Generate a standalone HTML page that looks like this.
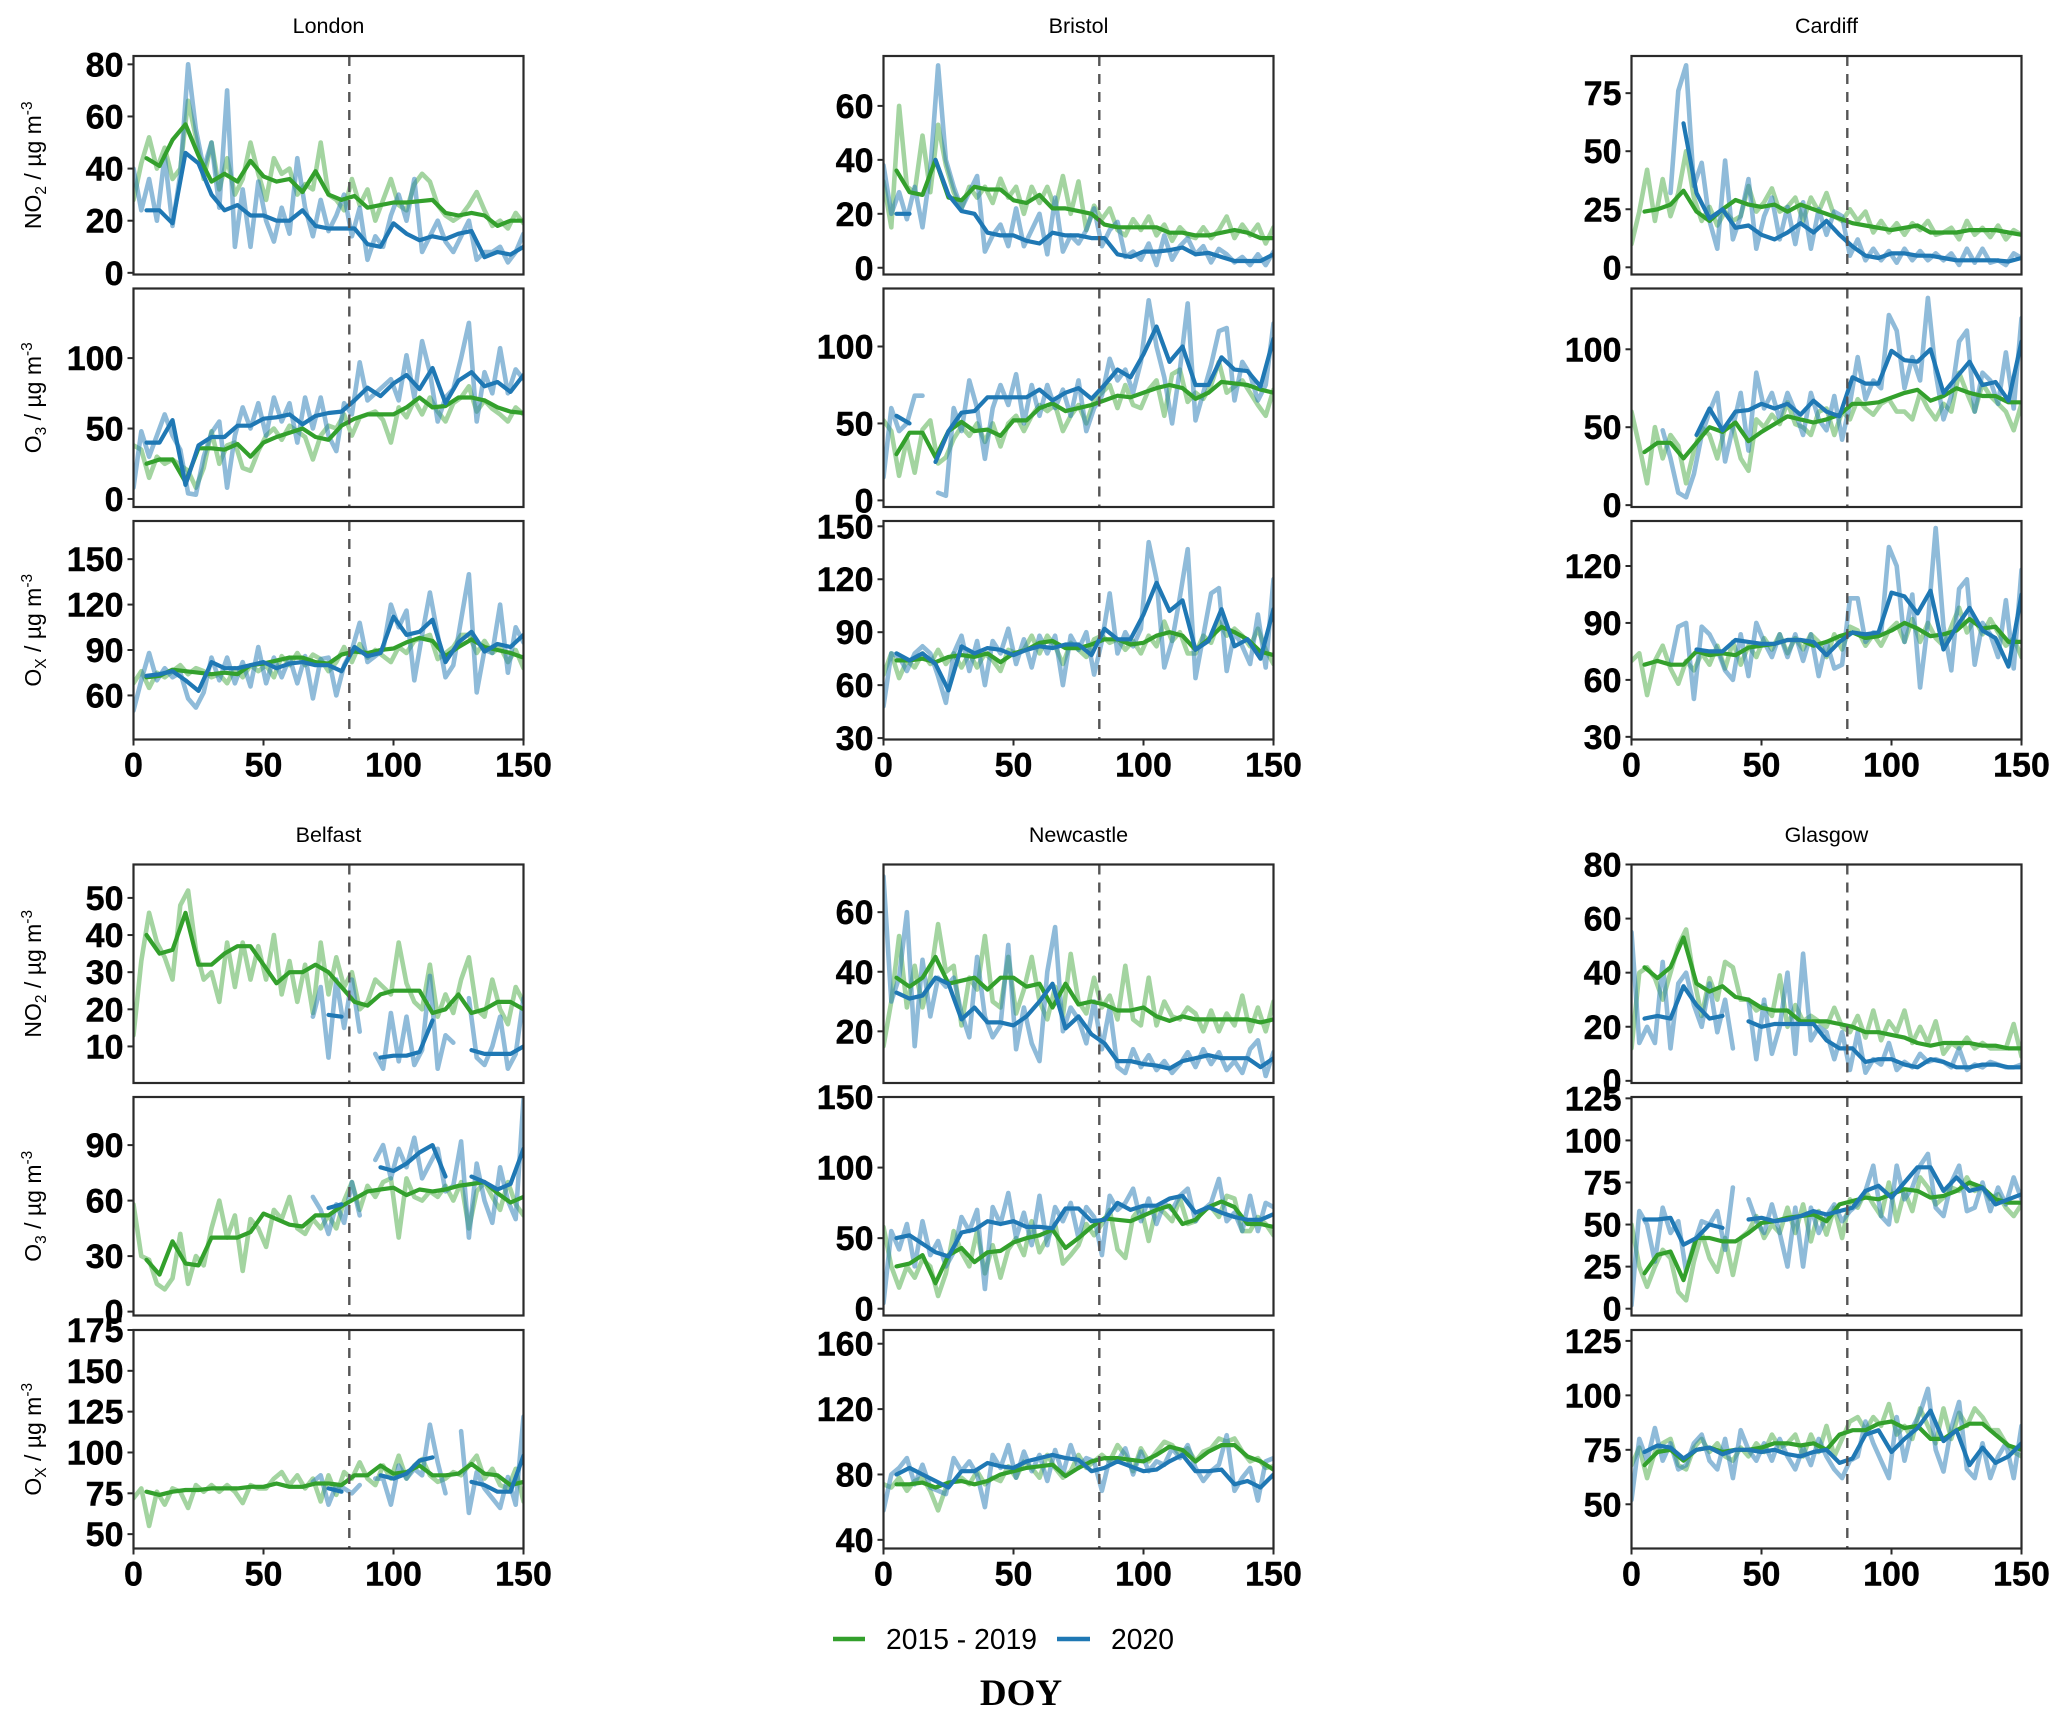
<!DOCTYPE html>
<html lang="en">
<head>
<meta charset="utf-8">
<title>NO2, O3 and Ox by city, 2015-2019 vs 2020</title>
<style>
html,body{margin:0;padding:0;background:#fff;}
svg{display:block;}
text{font-family:"Liberation Sans",sans-serif;fill:#000;}
.tick{font-weight:bold;font-size:34px;stroke:#000;stroke-width:0.4px;}
.city{font-size:21.5px;}
.ytitle{font-size:23px;}
.leg{font-size:28.3px;}
.doy{font-family:"Liberation Serif",serif;font-weight:bold;font-size:37px;}
</style>
</head>
<body>
<svg id="chart" xmlns="http://www.w3.org/2000/svg" width="2067" height="1724" viewBox="0 0 2067 1724">
  <rect width="2067" height="1724" fill="#fff"/>
  <g>
    <line x1="833" x2="865" y1="1639" y2="1639" stroke="#33a02c" stroke-width="4.5"/>
    <text class="leg" x="886" y="1649">2015 - 2019</text>
    <line x1="1057" x2="1090" y1="1639" y2="1639" stroke="#1f78b4" stroke-width="4.5"/>
    <text class="leg" x="1111" y="1649">2020</text>
  </g>
  <text class="doy" x="1021" y="1705" text-anchor="middle">DOY</text>
</svg>
<script>
const _ = null;
const rawDoy = [0,3,6,9,12,15,18,21,24,27,30,33,36,39,42,45,48,51,54,57,60,63,66,69,72,75,78,81,84,87,90,93,96,99,102,105,108,111,114,117,120,123,126,129,132,135,138,141,144,147,150];
const smoothDoy = [5,10,15,20,25,30,35,40,45,50,55,60,65,70,75,80,85,90,95,100,105,110,115,120,125,130,135,140,145,150];
const lockdownDoy = 83;
const xTicks = [0,50,100,150];

const lonNo2RawBase = [28,42,52,40,48,36,40,66,52,36, 50,32,44,30,36,50,38,28,44,38, 40,30,34,32,50,30,28,24,36,26, 32,20,28,36,26,24,34,38,35,26, 22,20,22,26,31,24,18,20,17,23, 19];
const lonNo2RawCur = [40,24,36,20,45,18,38,80,55,40, 50,25,70,10,32,10,35,20,12,25, 15,44,25,14,28,16,22,30,14,25, 5,14,10,22,30,20,36,8,14,20, 12,8,14,20,5,8,8,10,4,8, 15];
const lonNo2SmBase = [44,41,51,57,45,35,38,35,43,37, 35,36,31,39,30,28,29.5,25,26,27, 27,27.5,28,23,22,23,22,18,20,20];
const lonNo2SmCur = [24,24,19,46,42,30,24,26,22,22, 20,20,24,18,17,17,17,11,10,19, 15,12.5,14,13,15,16,6,8,7,10];
const lonO3RawBase = [38,35,15,30,25,28,24,20,8,22, 48,25,38,40,22,20,34,45,50,42, 52,48,44,28,45,52,50,60,45,58, 60,62,56,40,65,58,70,60,72,62, 55,68,72,80,62,70,64,60,55,65, 60];
const lonO3RawCur = [8,48,30,45,60,45,35,4,3,30, 47,55,8,45,65,50,68,45,72,55, 68,40,72,50,72,45,34,68,60,97, 70,75,80,85,70,102,72,112,90,55, 72,78,100,125,55,90,75,107,75,92, 85];
const lonO3SmBase = [25,28,28,12,36,36,35,39,30,40, 44,47,50,44,42,52,57,60,60,60, 65,72,65,66,72,72,70,65,62,61];
const lonO3SmCur = [40,40,56,10,38,44,44,52,52,57, 58,60,53,59,61,62,70,79,73,82, 88,78,93,68,84,90,80,83,76,88];
const lonOxRawBase = [68,76,65,75,72,76,80,74,78,76, 72,74,68,78,72,80,76,80,72,86, 80,88,80,87,84,76,82,92,82,94, 85,90,86,82,92,88,96,98,100,84, 88,92,100,100,88,96,88,92,82,90, 78];
const lonOxRawCur = [50,70,88,70,78,72,75,58,52,62, 85,70,85,68,82,66,92,68,85,72, 85,68,86,58,84,85,60,80,90,108, 82,86,90,120,105,116,70,100,128,100, 72,80,110,140,62,90,88,120,75,105, 95];
const lonOxSmBase = [72,73,77,76,75,74,75,74,80,81, 83,85,85,82,81,87,89,88,90,91, 95,98,96,86,92,97,92,90,88,85];
const lonOxSmCur = [73,74,76,70,63,82,78,78,80,82, 78,81,82,80,80,76,92,86,88,112, 100,102,110,82,95,102,89,94,92,100];

const briNo2RawBase = [32,15,60,30,28,49,28,53,38,28, 22,30,26,30,24,33,26,30,20,30, 24,30,22,34,20,32,14,23,18,22, 14,12,18,14,19,12,16,10,15,12, 11,15,11,14,19,11,16,12,16,9, 15];
const briNo2RawCur = [38,20,28,18,30,15,36,75,40,30, 22,28,34,6,12,16,8,22,8,14, 20,5,26,6,12,9,14,22,8,14, 17,4,6,3,9,1,12,3,8,11, 5,8,2,7,5,2,4,1,5,1, 6];
const briNo2SmBase = [36,28,27,40,26,25,30,29,29,25, 24,27,22,22,21,20,16,15,15,15, 15,13,13,12,12,13,14,13,11,11];
const briNo2SmCur = [20,20,_,40,27,21,20,13,12,12, 10,9,13,12,12,11,11,5,4,6, 6,6.5,7.5,5,5.5,4,2.5,2.5,2.5,5];
const briO3RawBase = [52,45,16,40,18,46,52,24,28,40, 48,42,50,38,50,35,50,55,45,55, 62,58,62,45,55,62,50,65,70,75, 60,75,62,60,72,78,55,82,85,64, 70,66,75,90,70,74,78,70,62,55, 72];
const briO3RawCur = [15,60,45,50,68,68,_,5,3,60, 45,78,60,27,60,75,62,82,50,75, 55,75,60,72,55,78,45,60,68,92, 78,85,70,90,130,100,80,50,85,128, 52,70,88,110,112,65,90,82,65,75, 115];
const briO3SmBase = [30,44,44,28,45,51,45,46,42,52, 52,60,63,58,60,62,65,68,67,70, 73,75,73,66,70,77,76,75,72,70];
const briO3SmCur = [55,50,_,25,45,57,58,67,67,67, 67,72,65,70,73,66,75,85,80,95, 113,90,100,75,75,93,85,84,74,105];
const briOxRawBase = [66,78,64,74,70,78,72,80,72,78, 70,78,70,78,74,68,80,78,80,88, 78,88,82,72,84,80,76,86,88,84, 86,80,85,78,88,82,96,85,90,78, 78,88,84,96,88,92,88,82,92,80, 72];
const briOxRawCur = [48,78,76,68,78,82,78,65,50,78, 88,68,85,60,85,78,92,72,86,70, 88,78,88,60,88,80,90,66,85,112, 78,90,82,92,141,120,70,85,110,137, 64,88,112,115,68,90,82,72,100,70, 120];
const briOxSmBase = [74,74,75,73,76,77,76,78,73,78, 80,84,85,81,81,83,86,86,83,84, 88,90,88,80,86,93,90,86,79,77];
const briOxSmCur = [78,74,78,72,57,82,78,81,80,77, 80,82,81,83,83,77,92,86,86,100, 118,102,108,80,85,103,82,86,75,103];

const carNo2RawBase = [10,24,42,20,38,22,32,50,30,20, 26,18,24,20,22,35,24,28,34,24, 26,30,20,30,24,32,22,20,25,20, 24,15,20,15,19,14,19,16,20,14, 15,17,12,20,14,17,13,18,12,16, 14];
const carNo2RawCur = [_,_,_,_,_,32,76,87,35,45, 20,8,46,12,22,38,8,22,30,12, 26,10,28,8,25,14,24,22,5,12, 3,8,3,7,2,8,3,7,3,6, 3,6,1,8,2,8,2,3,1,6, 4];
const carNo2SmBase = [24,25,27,33,24,20,25,29,27,26, 27,24,27,25,23,21,19,18,17,16, 17,18,15,15,15,16,16,16,15,14];
const carNo2SmCur = [_,_,_,62,32,21,25,17,18,14, 12,15,19,15,20,14,9,5,4,6, 6,5,5,4,3,3,3,3,2.5,4];
const carO3RawBase = [60,38,14,50,30,45,38,14,35,50, 45,30,50,50,30,22,55,50,58,52, 66,52,50,45,60,62,45,60,55,68, 62,58,65,68,60,60,55,72,62,55, 65,60,85,72,60,78,70,65,60,48, 65];
const carO3RawCur = [_,_,_,_,48,30,8,5,20,45, 60,72,28,50,72,35,85,62,72,55, 72,60,45,72,55,48,70,42,65,95, 68,80,75,122,112,75,95,80,133,85, 55,70,105,112,60,85,80,65,98,62, 120];
const carO3SmBase = [34,40,40,30,40,50,47,53,41,47, 52,57,55,53,55,58,65,65,66,69, 72,74,67,70,75,72,70,70,66,66];
const carO3SmCur = [_,_,_,_,45,62,48,60,61,65, 62,65,58,67,60,57,82,78,78,99, 93,92,100,72,82,92,77,79,67,105];
const carOxRawBase = [70,74,52,70,78,66,58,70,65,74, 68,78,66,80,68,78,72,82,76,84, 74,82,76,84,80,72,84,76,88,86, 78,84,78,86,90,80,92,80,90,82, 78,88,98,85,92,84,92,85,78,82, 72];
const carOxRawCur = [_,_,_,_,_,68,88,90,50,88, 84,76,65,60,84,62,90,80,72,84, 72,84,70,84,62,80,66,68,103,103, 80,85,84,130,120,80,105,56,90,140, 88,65,108,113,68,90,84,72,102,66, 118];
const carOxSmBase = [68,70,68,68,75,73,74,73,77,78, 79,81,81,78,80,83,85,82,83,86, 90,87,83,84,86,92,87,88,80,80];
const carOxSmCur = [_,_,_,_,76,75,75,81,80,79, 79,81,81,80,73,80,85,84,85,106, 104,95,107,76,88,98,86,82,67,105];

const belNo2RawBase = [13,33,46,38,34,28,48,52,36,28, 30,22,38,26,38,28,37,28,40,24, 33,22,32,19,38,24,34,26,30,20, 22,28,26,24,38,27,22,20,32,18, 24,19,28,34,20,18,28,20,16,26, 22];
const belNo2RawCur = [_,_,_,_,_,_,_,_,_,_, _,_,_,_,_,_,_,_,_,_, _,_,_,18,26,7,28,15,28,14, _,8,4,19,6,18,5,9,29,4, 13,11,_,23,7,5,10,18,4,8, 23];
const belNo2SmBase = [40,35,36,46,32,32,35,37,37,32, 27,30,30,32,30,26,22,21,24,25, 25,25,19,20,24,19,20,22,22,20];
const belNo2SmCur = [_,_,_,_,_,_,_,_,_,_, _,_,_,_,18.5,18,_,_,7,7.5, 7.5,8.5,17,_,_,9,8,8,8,10];
const belO3RawBase = [58,30,28,15,12,18,42,15,30,25, 45,60,40,52,22,50,45,35,55,50, 62,45,42,50,45,52,45,60,70,55, 68,62,70,72,40,72,62,60,65,62, 68,60,70,45,65,70,62,55,70,58, 52];
const belO3RawCur = [_,_,_,_,_,_,_,_,_,_, _,_,_,_,_,_,_,_,_,_, _,_,_,62,55,42,58,48,70,52, _,82,90,72,88,78,94,72,80,88, 65,68,92,40,80,60,48,78,60,50, 115];
const belO3SmBase = [28,20,38,26,25,40,40,40,43,53, 50,47,46,52,52,57,61,65,66,67, 63,66,65,66,68,69,70,64,59,62];
const belO3SmCur = [_,_,_,_,_,_,_,_,_,_, _,_,_,_,56,58,_,_,78,76, 80,86,90,73,_,73,70,66,69,88];
const belOxRawBase = [72,78,55,76,68,78,76,66,80,76, 80,76,80,76,69,80,78,78,84,88, 80,86,78,84,70,86,74,88,84,94, 84,80,92,84,98,84,92,96,86,82, 84,88,86,92,98,84,90,80,78,90, 70];
const belOxRawCur = [_,_,_,_,_,_,_,_,_,_, _,_,_,_,_,_,_,_,_,_, _,_,_,82,86,68,80,78,75,80, _,84,84,68,92,84,90,86,117,94, 75,_,113,63,88,78,72,66,85,68, 122];
const belOxSmBase = [76,74,76,77,77,78,78,78,79,79, 81,79,79,81,81,80,86,86,92,87, 88,92,86,86,87,93,87,86,80,82];
const belOxSmCur = [_,_,_,_,_,_,_,_,_,_, _,_,_,_,78,76,_,_,86,84, 87,95,97,_,_,82,80,76,76,98];

const newNo2RawBase = [15,30,52,28,42,28,38,56,40,42, 22,38,34,52,30,28,45,26,34,45, 30,24,35,25,46,30,26,38,28,32, 24,42,24,22,38,22,30,25,24,28, 26,20,27,20,26,22,32,20,28,20, 30];
const newNo2RawCur = [72,30,38,60,15,44,25,38,35,38, 26,18,45,25,18,22,49,14,28,16, 10,40,55,20,28,24,16,30,14,28, 8,6,14,8,12,7,10,6,9,13, 8,14,9,13,7,10,6,14,17,5, 13];
const newNo2SmBase = [38,35,38,45,36,37,38,34,38,38, 35,36,28,36,29,30,29,27,27,28, 25,23.5,25,24,24,24,24,24,23,24];
const newNo2SmCur = [33,31,32,38,36,24,28,23,23,22, 25,30,36,21,25,19,16,10,10,9, 8.5,7.5,10,11,12,11,11,11,8,11];
const newO3RawBase = [58,30,15,30,22,35,30,9,25,55, 40,30,55,25,45,22,42,50,38,62, 40,50,60,32,38,45,60,52,60,70, 42,36,65,72,48,72,68,62,78,60, 62,70,72,65,80,78,55,55,65,60, 52];
const newO3RawCur = [4,55,42,60,30,62,38,48,30,40, 65,55,70,14,72,60,82,50,68,45, 80,45,72,62,75,50,72,65,38,80, 70,75,85,62,78,60,75,70,80,85, 62,70,75,92,62,68,55,80,55,75, 72];
const newO3SmBase = [30,32,38,18,38,43,33,40,41,47, 50,52,56,43,50,58,64,63,62,66, 70,73,60,63,72,76,72,60,60,58];
const newO3SmCur = [50,52,46,40,37,54,56,62,60,62, 58,58,57,71,71,62,63,75,70,73, 73,78,80,68,72,68,65,63,63,67];
const newOxRawBase = [74,72,78,70,76,78,70,58,72,76, 78,74,82,74,78,76,85,78,88,84, 78,92,84,78,82,92,84,88,92,88, 98,92,82,96,88,94,100,98,92,96, 88,94,96,102,100,102,94,88,90,84, 85];
const newOxRawCur = [58,80,84,90,74,86,72,70,68,90, 82,88,80,60,92,84,98,78,94,82, 92,76,95,80,98,84,90,88,70,90, 88,96,80,94,82,88,86,96,90,98, 84,76,82,86,104,70,78,84,64,88, 90];
const newOxSmBase = [74,74,75,72,75,76,74,76,80,82, 84,85,86,79,84,88,90,90,89,88, 92,97,95,88,94,98,98,91,88,83];
const newOxSmCur = [80,84,80,76,72,82,82,87,85,84, 88,90,92,90,89,82,84,88,85,82, 83,88,92,82,82,83,74,76,72,80];

const glaNo2RawBase = [12,40,42,38,30,40,50,56,38,24, 38,30,44,42,30,30,26,28,24,39, 20,28,22,24,22,20,27,20,18,24, 16,26,15,22,18,26,14,20,14,22, 10,14,12,16,12,14,12,12,12,21, 9];
const glaNo2RawCur = [55,14,20,14,44,12,36,40,28,20, 36,18,30,12,_,30,8,30,10,20, 40,10,47,15,20,18,8,18,4,18, 3,8,6,14,4,7,5,10,7,8, 7,5,12,4,6,5,7,6,5,5, 6];
const glaNo2SmBase = [42,38,42,53,36,33,35,31,30,27, 26,26,22,22,22,21,20,18,18,17, 16,14,13,14,14,14,13,13,12,12];
const glaNo2SmCur = [23,24,23,35,28,23,24,_,22,20, 21,21,21,21,15,12,12,7,8,8, 6,5,8,7,5,5,6,6,5,5];
const glaO3RawBase = [50,25,13,25,35,30,10,5,28,45, 30,22,42,20,42,46,55,42,50,45, 60,45,62,40,58,44,60,42,65,60, 70,62,55,75,52,70,58,78,72,62, 66,72,70,78,70,72,65,68,60,55, 62];
const glaO3RawCur = [2,58,50,28,60,45,52,22,38,52, 50,58,35,72,_,65,52,45,62,45, 25,60,25,60,45,55,62,52,58,62, 70,85,55,50,85,65,72,85,92,60, 55,75,85,58,60,75,58,72,62,78, 65];
const glaO3SmBase = [21,32,34,17,42,42,40,40,45,51, 52,54,55,56,52,62,64,66,65,68, 71,70,66,67,70,75,72,65,63,63];
const glaO3SmCur = [53,53,54,38,42,50,48,_,53,54, 52,53,55,58,56,58,60,70,73,66, 75,84,84,70,78,70,72,62,65,68];
const glaOxRawBase = [68,76,62,74,78,80,68,66,76,80, 74,78,72,70,76,72,78,74,82,76, 78,82,72,82,74,86,72,80,88,90, 84,90,86,96,82,86,80,94,86,78, 94,80,92,86,94,90,84,84,78,74, 72];
const glaOxRawCur = [52,80,70,85,70,78,66,68,78,82, 70,66,80,62,84,75,70,78,70,80, 72,66,76,68,80,72,66,62,70,72, 88,78,70,62,90,70,85,92,103,75, 65,85,97,66,62,78,62,72,78,62, 86];
const glaOxSmBase = [68,74,75,70,75,76,74,75,75,76, 78,78,77,78,75,82,84,84,87,88, 85,86,80,80,84,87,87,82,77,75];
const glaOxSmCur = [74,77,76,71,75,76,73,75,75,74, 75,73,72,74,75,69,71,82,84,74, 80,85,93,79,84,68,76,69,72,78];

const cityNames = ["London","Bristol","Cardiff","Belfast","Newcastle","Glasgow"];
const speciesNames = ["NO","O","O"];
const speciesSubs = ["2","3","X"];
const axisDomains = [
  [[-0.64,83.2],[-5.7,149.4],[30.9,175.2]],
  [[-2.5,78.5],[-4.3,137.7],[29.2,153]],
  [[-3.1,91],[-1.2,139],[28.6,143.7]],
  [[0.15,59],[-2.1,116],[41.2,175]],
  [[2.66,76],[-4.8,150],[34.7,168.4]],
  [[-0.8,80],[-4.05,125.8],[29.7,130]]
];
const axisTicks = [
  [[0,20,40,60,80],[0,50,100],[60,90,120,150]],
  [[0,20,40,60],[0,50,100],[30,60,90,120,150]],
  [[0,25,50,75],[0,50,100],[30,60,90,120]],
  [[10,20,30,40,50],[0,30,60,90],[50,75,100,125,150,175]],
  [[20,40,60],[0,50,100,150],[40,80,120,160]],
  [[0,20,40,60,80],[0,25,50,75,100,125],[50,75,100,125]]
];
const seriesTable = [
  [[lonNo2RawBase,lonNo2RawCur,lonNo2SmBase,lonNo2SmCur],[lonO3RawBase,lonO3RawCur,lonO3SmBase,lonO3SmCur],[lonOxRawBase,lonOxRawCur,lonOxSmBase,lonOxSmCur]],
  [[briNo2RawBase,briNo2RawCur,briNo2SmBase,briNo2SmCur],[briO3RawBase,briO3RawCur,briO3SmBase,briO3SmCur],[briOxRawBase,briOxRawCur,briOxSmBase,briOxSmCur]],
  [[carNo2RawBase,carNo2RawCur,carNo2SmBase,carNo2SmCur],[carO3RawBase,carO3RawCur,carO3SmBase,carO3SmCur],[carOxRawBase,carOxRawCur,carOxSmBase,carOxSmCur]],
  [[belNo2RawBase,belNo2RawCur,belNo2SmBase,belNo2SmCur],[belO3RawBase,belO3RawCur,belO3SmBase,belO3SmCur],[belOxRawBase,belOxRawCur,belOxSmBase,belOxSmCur]],
  [[newNo2RawBase,newNo2RawCur,newNo2SmBase,newNo2SmCur],[newO3RawBase,newO3RawCur,newO3SmBase,newO3SmCur],[newOxRawBase,newOxRawCur,newOxSmBase,newOxSmCur]],
  [[glaNo2RawBase,glaNo2RawCur,glaNo2SmBase,glaNo2SmCur],[glaO3RawBase,glaO3RawCur,glaO3SmBase,glaO3SmCur],[glaOxRawBase,glaOxRawCur,glaOxSmBase,glaOxSmCur]]
];

const NS = "http://www.w3.org/2000/svg";
const root = document.getElementById("chart");
const colLeft = [133.5,883.5,1631.5];
const rowTop = [[56,288.5,521],[864.5,1097,1330]];
const titleY = [33,842];
const W = 390, H = 218.5;

function mk(tag, attrs, parent){
  const el = document.createElementNS(NS, tag);
  for (const k in attrs) el.setAttribute(k, attrs[k]);
  parent.appendChild(el);
  return el;
}
function pathFrom(xs, vals, sx, sy){
  let d = "", pen = false;
  for (let i = 0; i < xs.length; i++){
    const v = vals[i];
    if (v === null || v === undefined){ pen = false; continue; }
    d += (pen ? "L" : "M") + sx(xs[i]).toFixed(1) + " " + sy(v).toFixed(1);
    pen = true;
  }
  return d;
}
const lineStyles = [
  {stroke:"#33a02c", opacity:0.45, width:4.6, xs:rawDoy, label:"raw-2015-2019"},
  {stroke:"#1f78b4", opacity:0.5, width:4.6, xs:rawDoy, label:"raw-2020"},
  {stroke:"#33a02c", opacity:1, width:4.2, xs:smoothDoy, label:"smoothed-2015-2019"},
  {stroke:"#1f78b4", opacity:1, width:4.2, xs:smoothDoy, label:"smoothed-2020"}
];

cityNames.forEach(function(city, c){
  const col = c % 3, row = Math.floor(c / 3);
  const left = colLeft[col];
  const slug = city.toLowerCase();
  const title = mk("text", {class:"city", x:left + W / 2, y:titleY[row], "text-anchor":"middle"}, root);
  
  
  title.textContent = city;

  speciesNames.forEach(function(sp, s){
    const top = rowTop[row][s];
    const dom = axisDomains[c][s];
    const sx = function(d){ return left + d / 150 * W; };
    const sy = function(v){ return top + (dom[1] - v) / (dom[1] - dom[0]) * H; };
    const g = mk("g", {}, root);
    
    

    const clipId = "clip-" + c + "-" + s;
    const defs = mk("defs", {}, g);
    const cp = mk("clipPath", {id:clipId}, defs);
    mk("rect", {x:left, y:top, width:W, height:H}, cp);

    const plot = mk("g", {"clip-path":"url(#" + clipId + ")"}, g);
    seriesTable[c][s].forEach(function(vals, k){
      const st = lineStyles[k];
      const p = mk("path", {d:pathFrom(st.xs, vals, sx, sy), fill:"none", stroke:st.stroke, "stroke-width":st.width, "stroke-opacity":st.opacity, "stroke-linejoin":"round", "stroke-linecap":"round"}, plot);
      
      
    });

    const vl = mk("line", {x1:sx(lockdownDoy), x2:sx(lockdownDoy), y1:top, y2:top + H, stroke:"#555", "stroke-width":2.4, "stroke-dasharray":"10 8"}, g);
    
    

    const frame = mk("rect", {x:left, y:top, width:W, height:H, fill:"none", stroke:"#2a2a2a", "stroke-width":2.2}, g);
    
    

    axisTicks[c][s].forEach(function(t){
      const tm = mk("line", {x1:left - 6, x2:left, y1:sy(t), y2:sy(t), stroke:"#2a2a2a", "stroke-width":2}, g);
      
      
      const tl = mk("text", {class:"tick", x:left - 10, y:sy(t) + 12, "text-anchor":"end"}, g);
      
      
      tl.textContent = String(t);
    });

    if (s === 2){
      xTicks.forEach(function(t){
        const tm = mk("line", {x1:sx(t), x2:sx(t), y1:top + H, y2:top + H + 6, stroke:"#2a2a2a", "stroke-width":2}, g);
        
        
        const tl = mk("text", {class:"tick", x:sx(t), y:top + H + 37, "text-anchor":"middle"}, g);
        
        
        tl.textContent = String(t);
      });
    }

    if (col === 0){
      const cy = top + H / 2, bx = 41;
      const yt = mk("text", {class:"ytitle", transform:"rotate(-90 " + bx + " " + cy + ")", x:bx, y:cy, "text-anchor":"middle"}, g);
      
      
      const t1 = mk("tspan", {}, yt);
      t1.textContent = sp;
      const t2 = mk("tspan", {dy:5, "font-size":15.5}, yt);
      t2.textContent = speciesSubs[s];
      const t3 = mk("tspan", {dy:-5}, yt);
      t3.textContent = " / \u00B5g m";
      const t4 = mk("tspan", {dy:-9, "font-size":15.5}, yt);
      t4.textContent = "-3";
    }
  });
});
</script>
</body>
</html>
